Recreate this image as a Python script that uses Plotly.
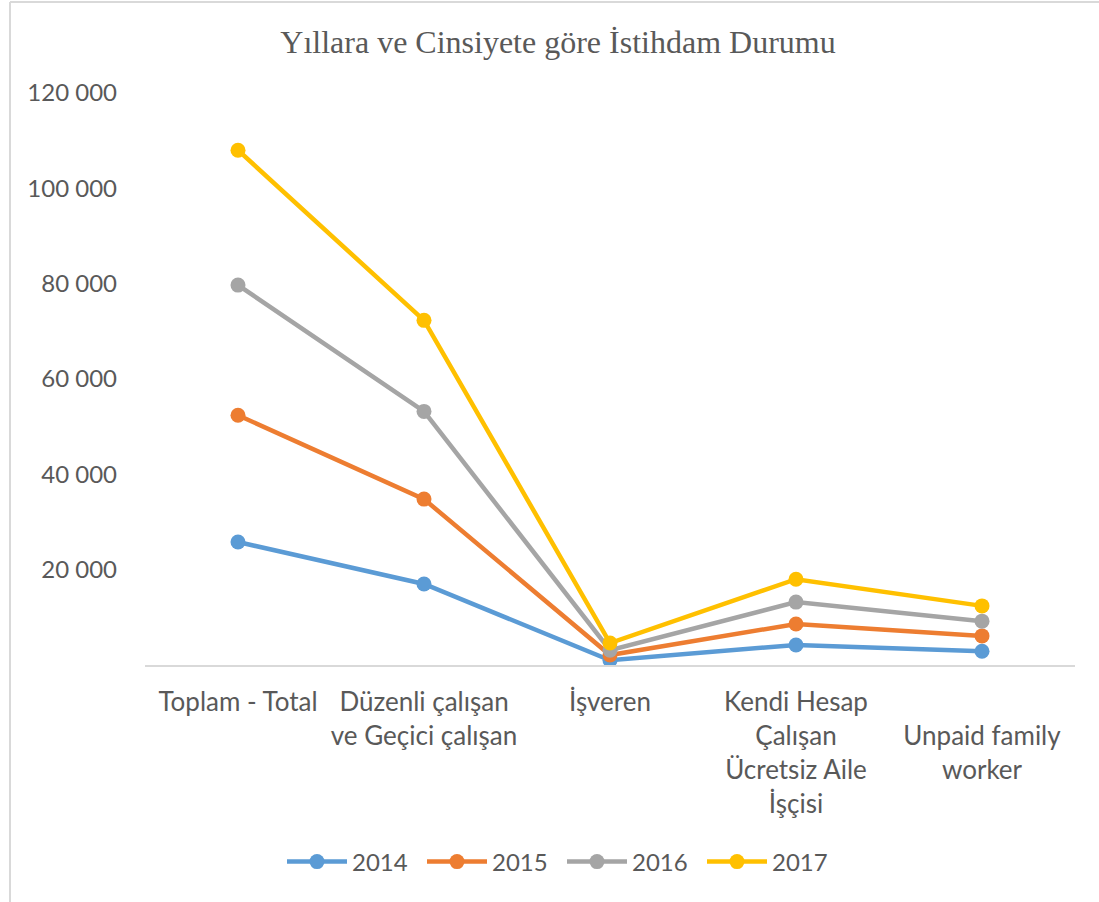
import plotly.graph_objects as go

categories = ["Toplam - Total", "Düzenli çalışan<br>ve Geçici çalışan", "İşveren",
              "Kendi Hesap<br>Çalışan<br>Ücretsiz Aile<br>İşçisi", "<br>Unpaid family<br>worker"]
years = ["2014", "2015", "2016", "2017"]
v2014 = [25800, 17000, 1000, 4200, 2900]
v2015 = [52400, 34800, 2100, 8600, 6100]
v2016 = [79700, 53200, 3100, 13200, 9200]
v2017 = [108000, 72300, 4600, 18000, 12400]
series = [v2014, v2015, v2016, v2017]
colors = ["#5B9BD5", "#ED7D31", "#A5A5A5", "#FFC000"]

tick_vals = [20000, 40000, 60000, 80000, 100000, 120000]
tick_text = ["20 000", "40 000", "60 000", "80 000", "100 000", "120 000"]

fig = go.Figure()
for name, vals, col in zip(years, series, colors):
    fig.add_trace(go.Scatter(x=categories, y=vals, name=name, mode="lines+markers",
                             line=dict(color=col, width=4.5),
                             marker=dict(color=col, size=15)))

fig.update_layout(
    width=1099, height=902,
    paper_bgcolor="white", plot_bgcolor="white",
    margin=dict(l=145, r=24, t=93, b=237),
    title=dict(text="Yıllara ve Cinsiyete göre İstihdam Durumu", x=(558 - 145) / 930, xanchor="center",
               y=1 - 42 / 902, yanchor="middle", xref="paper",
               font=dict(family="Liberation Serif", size=32, color="#595959")),
    font=dict(family="Lato", size=24, color="#595959"),
    legend=dict(orientation="h", x=(562 - 145) / 930, xanchor="center", y=-(862 - 665) / 572,
                yanchor="middle", font=dict(size=24, color="#595959"), itemwidth=60,
                entrywidth=65, entrywidthmode="pixels"),
    showlegend=True,
)
fig.update_xaxes(range=[-0.5, 4.5], showgrid=False, showline=True, linecolor="#d9d9d9", linewidth=2,
                 ticks="", tickfont=dict(size=26, color="#595959"), ticklabelstandoff=13)
fig.update_yaxes(range=[0, 120000], tickvals=tick_vals, ticktext=tick_text,
                 showgrid=False, zeroline=False, showline=False,
                 tickfont=dict(size=24, color="#595959"), ticklabelstandoff=27)

# chart area border (left and top edges visible in the original)
fig.add_shape(type="line", xref="paper", yref="paper",
              x0=(10 - 145) / 930, x1=(10 - 145) / 930, y0=-237 / 572, y1=(572 + 91) / 572,
              line=dict(color="#d9d9d9", width=2))
fig.add_shape(type="line", xref="paper", yref="paper",
              x0=(10 - 145) / 930, x1=1.03, y0=(572 + 91) / 572, y1=(572 + 91) / 572,
              line=dict(color="#d9d9d9", width=2))

fig.write_html("out.html", config={"displayModeBar": False},
               post_script="document.body.style.margin='0';")
